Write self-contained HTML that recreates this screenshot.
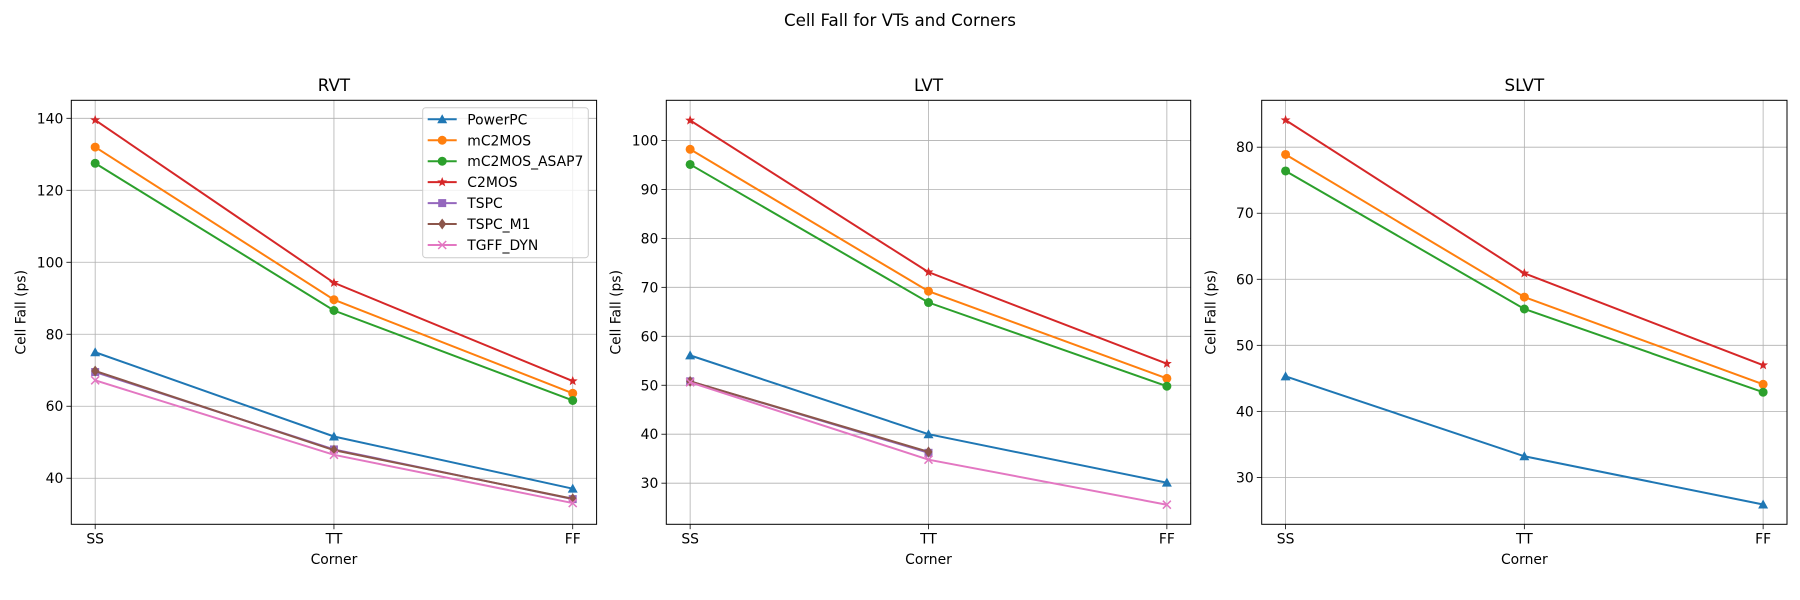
<!DOCTYPE html>
<html><head><meta charset="utf-8"><style>
body{margin:0;background:#fff}
svg{display:block;font-family:"DejaVu Sans","Liberation Sans",sans-serif}
</style></head><body>
<svg id="fig" width="1800" height="600" viewBox="0 0 1800 600" xmlns="http://www.w3.org/2000/svg">
<rect width="1800" height="600" fill="#fff"/>
<text x="900" y="26" text-anchor="middle" font-size="16.7">Cell Fall for VTs and Corners</text>
</svg>
<script>
const categories = ["SS","TT","FF"];
const seriesNames = ["PowerPC","mC2MOS","mC2MOS_ASAP7","C2MOS","TSPC","TSPC_M1","TGFF_DYN"];
const panelTitles = ["RVT","LVT","SLVT"];
const rvtPowerPC=[75,51.6,37.1], rvtMC2MOS=[132,89.6,63.6], rvtASAP7=[127.5,86.6,61.6], rvtC2MOS=[139.5,94.3,67], rvtTSPC=[69.5,48,34.2], rvtTSPCM1=[69.8,47.8,34.3], rvtTGFF=[67.2,46.5,33.1];
const lvtPowerPC=[56.1,40,30.1], lvtMC2MOS=[98.2,69.2,51.4], lvtASAP7=[95.1,66.9,49.8], lvtC2MOS=[104.1,73.1,54.4], lvtTSPC=[50.8,36.2,null], lvtTSPCM1=[50.8,36.4,null], lvtTGFF=[50.6,34.8,25.6];
const slvtPowerPC=[45.3,33.2,25.9], slvtMC2MOS=[78.9,57.3,44.1], slvtASAP7=[76.4,55.5,42.9], slvtC2MOS=[84.1,60.9,47.0], slvtTSPC=[null,null,null], slvtTSPCM1=[null,null,null], slvtTGFF=[null,null,null];
const yTicksRVT=[40,60,80,100,120,140], yTicksLVT=[30,40,50,60,70,80,90,100], yTicksSLVT=[30,40,50,60,70,80];
const yLimRVT=[27.2,145], yLimLVT=[21.6,108.2], yLimSLVT=[22.9,87.1];

const colors=["#1f77b4","#ff7f0e","#2ca02c","#d62728","#9467bd","#8c564b","#e377c2"];
const markers=["tri","circle","star","star5","square","diamond","x"];
const mk=["tri","circle","circle","star","square","diamond","x"];
const panels=[
 {x0:71.3,x1:596.6,lim:yLimRVT,ticks:yTicksRVT,data:[rvtPowerPC,rvtMC2MOS,rvtASAP7,rvtC2MOS,rvtTSPC,rvtTSPCM1,rvtTGFF],legend:true},
 {x0:666.3,x1:1190.7,lim:yLimLVT,ticks:yTicksLVT,data:[lvtPowerPC,lvtMC2MOS,lvtASAP7,lvtC2MOS,lvtTSPC,lvtTSPCM1,lvtTGFF]},
 {x0:1261.7,x1:1787,lim:yLimSLVT,ticks:yTicksSLVT,data:[slvtPowerPC,slvtMC2MOS,slvtASAP7,slvtC2MOS,slvtTSPC,slvtTSPCM1,slvtTGFF]}
];
const Y0=100.3,Y1=524.3;
const NS="http://www.w3.org/2000/svg";
const svg=document.getElementById('fig');
function el(t,a,p){const e=document.createElementNS(NS,t);for(const k in a)e.setAttribute(k,a[k]);(p||svg).appendChild(e);return e;}
function marker(g,type,cx,cy,c){
 let e;
 if(type==="tri"){e=el('polygon',{points:`${cx},${cy-5} ${cx-5},${cy+4} ${cx+5},${cy+4}`,fill:c},g);}
 else if(type==="circle"){e=el('circle',{cx:cx,cy:cy,r:4.5,fill:c},g);}
 else if(type==="square"){e=el('rect',{x:cx-4,y:cy-4,width:8,height:8,fill:c},g);}
 else if(type==="diamond"){e=el('polygon',{points:`${cx},${cy-5.5} ${cx+4},${cy} ${cx},${cy+5.5} ${cx-4},${cy}`,fill:c},g);}
 else if(type==="star"){let p=[];for(let i=0;i<10;i++){const r=i%2?2.2:5.2,a=-Math.PI/2+i*Math.PI/5;p.push((cx+r*Math.cos(a)).toFixed(2)+","+(cy+r*Math.sin(a)).toFixed(2));}e=el('polygon',{points:p.join(' '),fill:c},g);}
 else {e=el('path',{d:`M${cx-4},${cy-4}L${cx+4},${cy+4}M${cx-4},${cy+4}L${cx+4},${cy-4}`,stroke:c,'stroke-width':1.5,fill:'none'},g);}
 
 
 return e;
}
panels.forEach((P,pi)=>{
 const g=el('g',{});
 
 
 const unit=(P.x1-P.x0)/2.2;
 const xs=i=>P.x0+unit*(0.1+i);
 const ys=v=>Y1-(v-P.lim[0])/(P.lim[1]-P.lim[0])*(Y1-Y0);
 // grid
 categories.forEach((c,i)=>{
  const l=el('line',{x1:xs(i),x2:xs(i),y1:Y0,y2:Y1,stroke:'#b0b0b0','stroke-width':0.8},g);
  
  
  el('line',{x1:xs(i),x2:xs(i),y1:Y1,y2:Y1+4.9,stroke:'#000','stroke-width':0.8},g);
  const t=el('text',{x:xs(i),y:Y1+19,'text-anchor':'middle','font-size':13.9},g);t.textContent=c;
  
  
 });
 P.ticks.forEach(v=>{
  const l=el('line',{x1:P.x0,x2:P.x1,y1:ys(v),y2:ys(v),stroke:'#b0b0b0','stroke-width':0.8},g);
  
  
  el('line',{x1:P.x0-4.9,x2:P.x0,y1:ys(v),y2:ys(v),stroke:'#000','stroke-width':0.8},g);
  const t=el('text',{x:P.x0-8,y:ys(v)+5,'text-anchor':'end','font-size':13.9},g);t.textContent=v;
  
  
 });
 // series
 P.data.forEach((d,si)=>{
  const sg=el('g',{},g);
  
  
  const pts=[];d.forEach((v,i)=>{if(v!==null)pts.push([xs(i),ys(v)]);});
  if(pts.length>1){const pl=el('polyline',{points:pts.map(p=>p.join(',')).join(' '),fill:'none',stroke:colors[si],'stroke-width':2},sg);
   
   }
  pts.forEach(p=>marker(sg,mk[si],p[0],p[1],colors[si]));
 });
 const fr=el('rect',{x:P.x0,y:Y0,width:P.x1-P.x0,height:Y1-Y0,fill:'none',stroke:'#000','stroke-width':1},g);
 
 
 const tt=el('text',{x:(P.x0+P.x1)/2,y:91,'text-anchor':'middle','font-size':16.7},g);tt.textContent=panelTitles[pi];
 
 
 const xl=el('text',{x:(P.x0+P.x1)/2,y:564,'text-anchor':'middle','font-size':13.9},g);xl.textContent='Corner';
 
 
 const yx=P.x0-46,yy=(Y0+Y1)/2;
 const yl=el('text',{x:yx,y:yy,'text-anchor':'middle','font-size':13.9,transform:`rotate(-90 ${yx} ${yy})`},g);yl.textContent='Cell Fall (ps)';
 
 
 if(P.legend){
  const lg=el('g',{},g);
  
  
  el('rect',{x:422.7,y:107.7,width:165.6,height:150,rx:3,fill:'#fff','fill-opacity':0.8,stroke:'#ccc','stroke-width':1},lg);
  seriesNames.forEach((n,si)=>{
   const e=el('g',{},lg);
   
   
   const y=119.3+si*20.95;
   el('line',{x1:427.7,x2:456.7,y1:y,y2:y,stroke:colors[si],'stroke-width':2},e);
   marker(e,mk[si],442.2,y,colors[si]);
   const t=el('text',{x:467.3,y:y+5,'font-size':13.9},e);t.textContent=n;
  });
 }
});
</script>
</body></html>
